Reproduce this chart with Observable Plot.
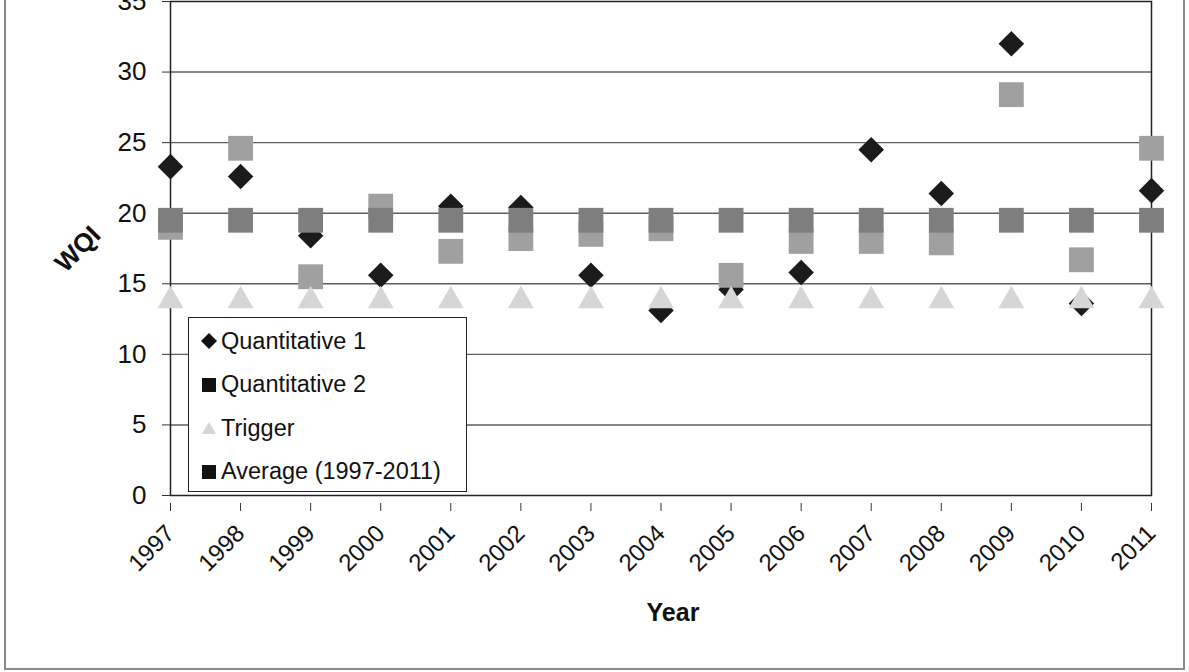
<!DOCTYPE html>
<html>
<head>
<meta charset="utf-8">
<script src="https://cdn.jsdelivr.net/npm/d3@7"></script>
<script src="https://cdn.jsdelivr.net/npm/@observablehq/plot@0.6"></script>
<style>
  html, body { margin: 0; padding: 0; background: #fff; }
  body { width: 1189px; height: 672px; position: relative; overflow: hidden; font-family: "Liberation Sans", Arial, sans-serif; }
  #outer { position: absolute; left: 4px; top: -10px; width: 1177px; height: 676px; border: 2px solid #8a8a8a; pointer-events: none; }
  #legend { position: absolute; left: 188px; top: 317px; width: 279px; height: 175px; border: 1.5px solid #222; background: #fff; box-sizing: border-box; }
  .row { position: absolute; left: 12px; height: 30px; display: flex; align-items: center; font-size: 23.5px; color: #111; }
  .row svg { margin-right: 4px; }
</style>
</head>
<body>
<div id="chart"></div>
<div id="legend"></div>
<div id="outer"></div>
<script>
const years = [1997, 1998, 1999, 2000, 2001, 2002, 2003, 2004, 2005, 2006, 2007, 2008, 2009, 2010, 2011];
const quantitative1 = [23.3, 22.6, 18.4, 15.6, 20.5, 20.4, 15.6, 13.1, 14.6, 15.8, 24.5, 21.4, 32.0, 13.6, 21.6];
const quantitative2 = [19.0, 24.6, 15.5, 20.5, 17.3, 18.2, 18.5, 18.9, 15.6, 18.0, 18.0, 17.9, 28.4, 16.7, 24.6];
const trigger = [13.8, 13.8, 13.8, 13.8, 13.8, 13.8, 13.8, 13.8, 13.8, 13.8, 13.8, 13.8, 13.8, 13.8, 13.8];
const average = [19.5, 19.5, 19.5, 19.5, 19.5, 19.5, 19.5, 19.5, 19.5, 19.5, 19.5, 19.5, 19.5, 19.5, 19.5];
const yTicks = [0, 5, 10, 15, 20, 25, 30, 35];
const seriesNames = ["Quantitative 1", "Quantitative 2", "Trigger", "Average (1997-2011)"];

const rows = (vals) => years.map((year, i) => ({year, value: vals[i]}));

const chart = Plot.plot({
  width: 1189,
  height: 672,
  marginLeft: 170,
  marginRight: 38,
  marginTop: 1,
  marginBottom: 177,
  style: {fontFamily: '"Liberation Sans", Arial, sans-serif', color: "#111", background: "transparent"},
  x: {type: "linear", domain: [years[0], years[years.length - 1]]},
  y: {domain: [0, 35]},
  marks: [
    Plot.gridY(yTicks.filter(d => d > 0 && d < 35), {stroke: "#5e5e5e", strokeOpacity: 1, strokeWidth: 1.4}),
    Plot.frame({stroke: "#222", strokeWidth: 1.5}),
    Plot.axisY({ticks: yTicks, tickSize: 8, tickPadding: 16, fontSize: 26, label: null, stroke: "#333"}),
    Plot.axisX({ticks: years, tickFormat: d => String(d), tickRotate: -45, tickSize: 8, tickPadding: 18, dy: 8, fontSize: 24, label: null, stroke: "#333"}),
    Plot.text(["Year"], {frameAnchor: "bottom", dx: 12, dy: 125, fontSize: 25, fontWeight: "bold", fill: "#111"}),
    Plot.text(["WQI"], {frameAnchor: "left", dx: -111, dy: 19, rotate: -45, fontSize: 26, fontWeight: "bold", fill: "#111"}),
    Plot.dot(rows(quantitative1), {x: "year", y: "value", symbol: "diamond2", r: 11.5, fill: "#1b1b1b", stroke: "none"}),
    Plot.dot(rows(quantitative2), {x: "year", y: "value", symbol: "square", r: 14, fill: "#a0a0a0", stroke: "none"}),
    Plot.dot(rows(trigger), {x: "year", y: "value", symbol: "triangle", r: 9.6, fill: "#d6d6d6", stroke: "none"}),
    Plot.dot(rows(average), {x: "year", y: "value", symbol: "square", r: 14, fill: "#7e7e7e", stroke: "none"})
  ]
});
document.getElementById("chart").appendChild(chart);

const legendSymbols = [
  '<svg width="16" height="16"><path d="M8,0L16,8L8,16L0,8Z" fill="#111"/></svg>',
  '<svg width="16" height="16"><rect x="1" y="1" width="14" height="14" fill="#111"/></svg>',
  '<svg width="16" height="16"><path d="M8,2L15,14L1,14Z" fill="#d6d6d6"/></svg>',
  '<svg width="16" height="16"><rect x="1" y="1" width="14" height="14" fill="#111"/></svg>'
];
const legend = document.getElementById("legend");
seriesNames.forEach((name, i) => {
  const row = document.createElement("div");
  row.className = "row";
  row.style.top = (8 + i * 43.5) + "px";
  row.innerHTML = legendSymbols[i] + "<span>" + name + "</span>";
  legend.appendChild(row);
});
</script>
</body>
</html>
